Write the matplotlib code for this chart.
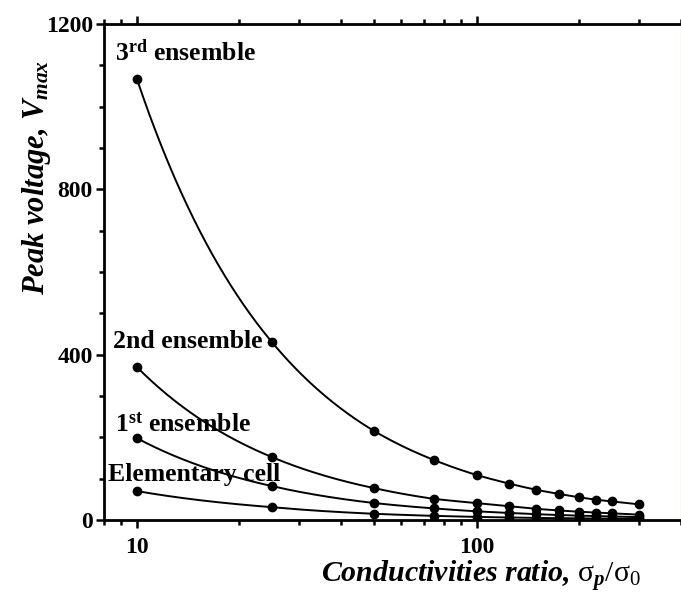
import numpy as np
import matplotlib
matplotlib.use("Agg")
import matplotlib.pyplot as plt
from matplotlib.ticker import LogLocator, NullFormatter, FixedLocator, MultipleLocator

# Data
ratio = [10, 25, 50, 75, 100, 125, 150, 175, 200, 225, 250, 300]
third = [1067, 430, 215, 145, 109, 88, 73, 63, 55, 49, 45, 38]
second = [370, 152, 77, 51, 41, 33, 27, 23, 20, 18, 16, 13]
first = [198, 82, 41, 28, 21, 17, 14, 12, 10.5, 9.5, 8.5, 7]
elem = [70, 31, 15, 10, 7.5, 6, 5, 4.4, 3.9, 3.5, 3.1, 2.6]
series = [third, second, first, elem]
labels = [r"3$^{\mathbf{rd}}$ ensemble", "2nd ensemble", r"1$^{\mathbf{st}}$ ensemble", "Elementary cell"]
label_pos = [(8.6, 1130), (8.5, 431), (8.6, 230), (8.2, 109)]

plt.rcParams['font.family'] = ['Liberation Serif', 'DejaVu Serif']
plt.rcParams['mathtext.fontset'] = 'custom'
plt.rcParams['mathtext.rm'] = 'Liberation Serif'
plt.rcParams['mathtext.bf'] = 'Liberation Serif:bold'
plt.rcParams['mathtext.it'] = 'Liberation Serif:bold:italic'

fig = plt.figure(figsize=(6.81, 5.94), dpi=100)
ax = fig.add_axes([0.1527, 0.1246, 0.8473, 0.835])

def smooth(xs, ys):
    lx = np.log(np.asarray(xs, float))
    ly = np.log(np.asarray(ys, float))
    xx = np.linspace(lx[0], lx[-1], 400)
    yy = np.interp(xx, lx, ly)
    return np.exp(xx), np.exp(yy)

for ys in series:
    sx, sy = smooth(ratio, ys)
    ax.plot(sx, sy, color='black', lw=1.4)
    ax.plot(ratio, ys, 'o', color='black', ms=6)

for lab, (lx, ly) in zip(labels, label_pos):
    ax.text(lx, ly, lab, fontsize=18.5, fontweight='bold', ha='left', va='center')

ax.set_xscale('log')
ax.set_xlim(8, 400)
ax.set_ylim(0, 1200)
ax.xaxis.set_major_locator(FixedLocator([10, 100]))
ax.xaxis.set_minor_locator(LogLocator(base=10, subs=np.arange(2, 10)))
ax.xaxis.set_minor_formatter(NullFormatter())
ax.set_xticklabels(['10', '100'])
ax.yaxis.set_major_locator(FixedLocator([0, 400, 800, 1200]))
ax.yaxis.set_minor_locator(MultipleLocator(100))

ax.tick_params(which='both', direction='out', width=1.8, top=True, right=False)
ax.tick_params(which='major', length=6, labelsize=17)
ax.tick_params(axis='x', which='major', pad=6)
ax.tick_params(axis='y', which='major', pad=2)
ax.tick_params(which='minor', length=3.5)
for t in ax.get_xticklabels() + ax.get_yticklabels():
    t.set_fontweight('bold')

for s in ['left', 'bottom', 'top']:
    ax.spines[s].set_linewidth(2)
ax.spines['right'].set_color('#f6dcd6')
ax.spines['right'].set_linewidth(1)

ax.set_ylabel(r"Peak voltage, $V_{max}$", fontsize=22, fontweight='bold', style='italic')
ax.yaxis.set_label_coords(-0.088, 0.69)
ax.set_xlabel(r"Conductivities ratio, $\mathrm{\sigma}_p/\mathrm{\sigma}_{\mathrm{0}}$", fontsize=21.5,
              fontweight='bold', style='italic')
ax.xaxis.set_label_coords(0.653, -0.079)

fig.savefig('out.png', dpi=100)
